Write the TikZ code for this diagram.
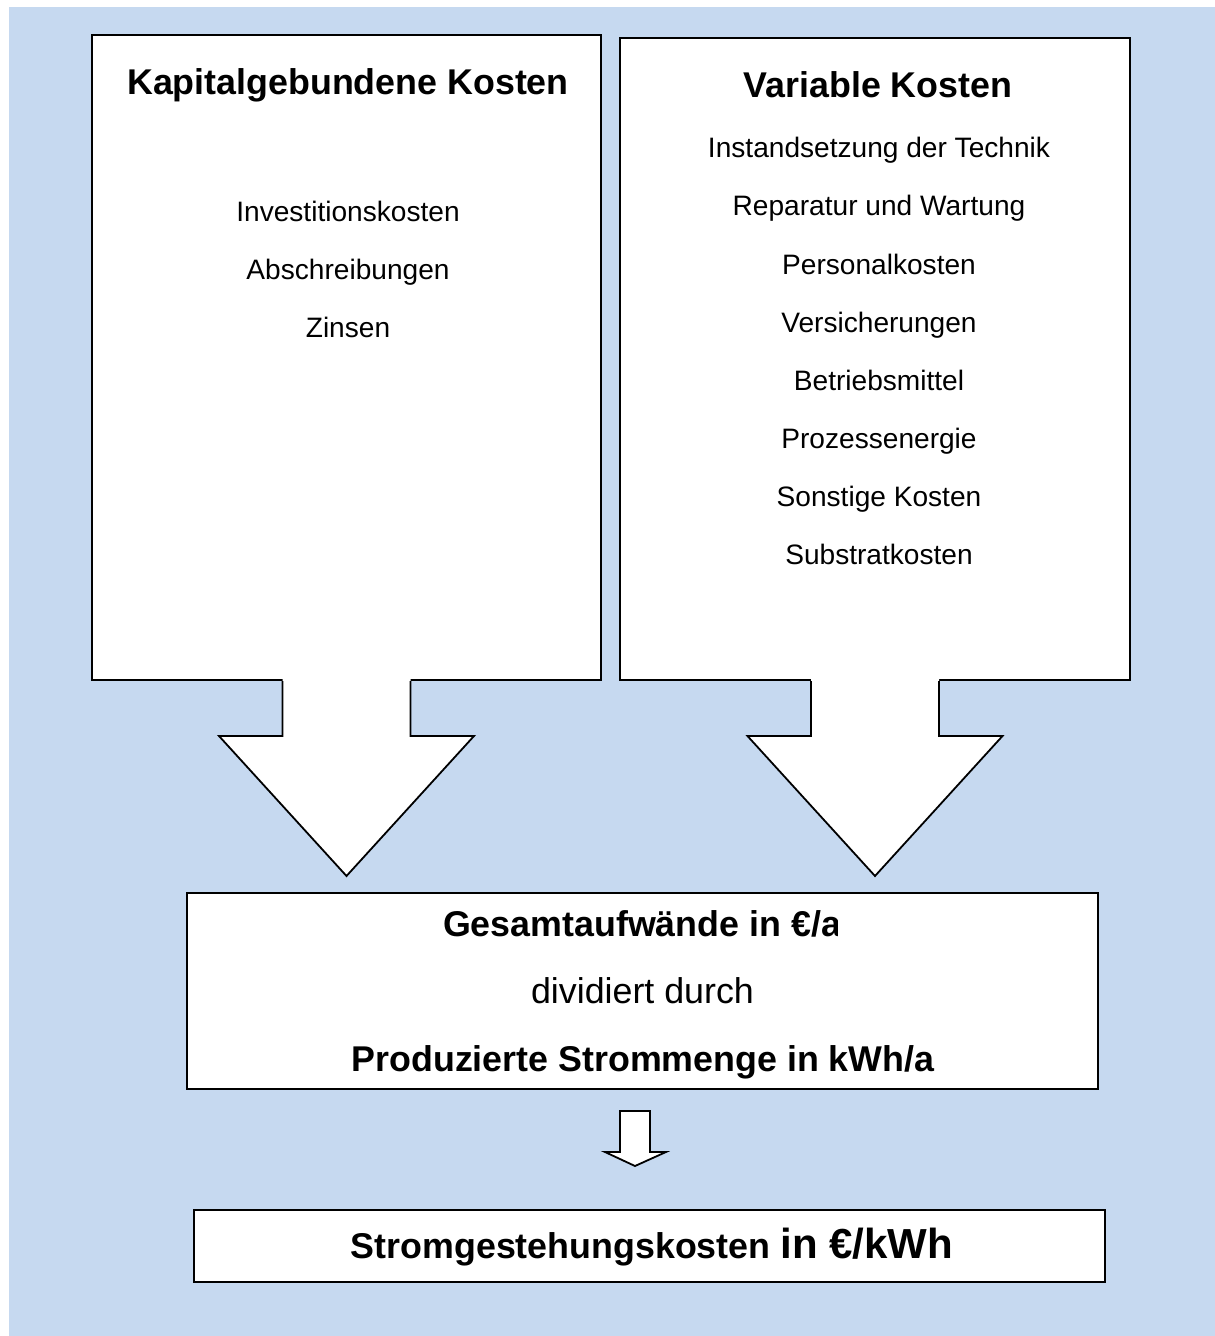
\documentclass[tikz,border=0pt]{standalone}
\usepackage{fontspec}
\setmainfont{Liberation Sans}
\definecolor{bg}{HTML}{C6D9F0}
\begin{document}
\begin{tikzpicture}[x=1pt,y=-1pt,
  box/.style={draw=black, fill=white, line width=2pt, inner sep=0pt},
  head/.style={font=\fontsize{35.8}{43}\selectfont\bfseries, anchor=base, inner sep=0pt},
  item/.style={font=\fontsize{28.1}{34}\selectfont, anchor=base, inner sep=0pt},
  plain/.style={font=\fontsize{35.8}{43}\selectfont, anchor=base, inner sep=0pt},
  arrowfill/.style={fill=white},
  arrowline/.style={draw=black, line width=1.8pt, line join=miter}]
\useasboundingbox (0,0) rectangle (1215,1336);
\fill[bg] (9,7) rectangle (1215,1336);

% boxes
\node[box, minimum width=509pt, minimum height=645pt] (kap) at (346.5,357.5) {};
\node[box, minimum width=510pt, minimum height=642pt] (var) at (875,359) {};
\node[box, minimum width=911pt, minimum height=196pt] (mid) at (642.5,991) {};
\node[box, minimum width=911pt, minimum height=72pt] (bot) at (649.5,1246) {};

% big arrows
\foreach \src in {kap,var}{
  \begin{scope}[shift={(\src.south)}]
    \fill[arrowfill] (-64,-2) -- (-64,55) -- (-127.5,55) -- (0,195) -- (127.5,55) -- (64,55) -- (64,-2) -- cycle;
    \draw[arrowline] (-64,0) -- (-64,55) -- (-127.5,55) -- (0,195) -- (127.5,55) -- (64,55) -- (64,0);
  \end{scope}
}

% small arrow
\begin{scope}[shift={(635,1111)}]
  \filldraw[fill=white, draw=black, line width=1.8pt, line join=miter]
    (-15,0) -- (-15,41) -- (-30,41) -- (0,55) -- (31,41) -- (15,41) -- (15,0) -- cycle;
\end{scope}

% left box texts
\node[head] (kapt) at (348,94) {Kapitalgebundene Kosten};
\node[item] (k1) at (348,221) {Investitionskosten};
\node[item] (k2) at (348,279) {Abschreibungen};
\node[item] (k3) at (348,337) {Zinsen};

% right box texts
\node[head] (vart) at (878,97) {Variable Kosten};
\node[item] (v1) at (879,157) {Instandsetzung der Technik};
\node[item] (v2) at (879,215) {Reparatur und Wartung};
\node[item] (v3) at (879,274) {Personalkosten};
\node[item] (v4) at (879,332) {Versicherungen};
\node[item] (v5) at (879,390) {Betriebsmittel};
\node[item] (v6) at (879,448) {Prozessenergie};
\node[item] (v7) at (879,506) {Sonstige Kosten};
\node[item] (v8) at (879,564) {Substratkosten};

% middle box texts
\begin{scope}
  \clip (190,880) rectangle (837,960);
  \node[head] (m1) at (642,936) {Gesamtaufwände in €/a};
\end{scope}
\node[plain] (m2) at (642.5,1003) {dividiert durch};
\node[head] (m3) at (643,1071) {Produzierte Strommenge in kWh/a};

% bottom text
\node[head] (b1) at (652,1258) {Stromgestehungskosten {\fontsize{42}{50}\selectfont in €/kWh}};
\end{tikzpicture}
\end{document}
